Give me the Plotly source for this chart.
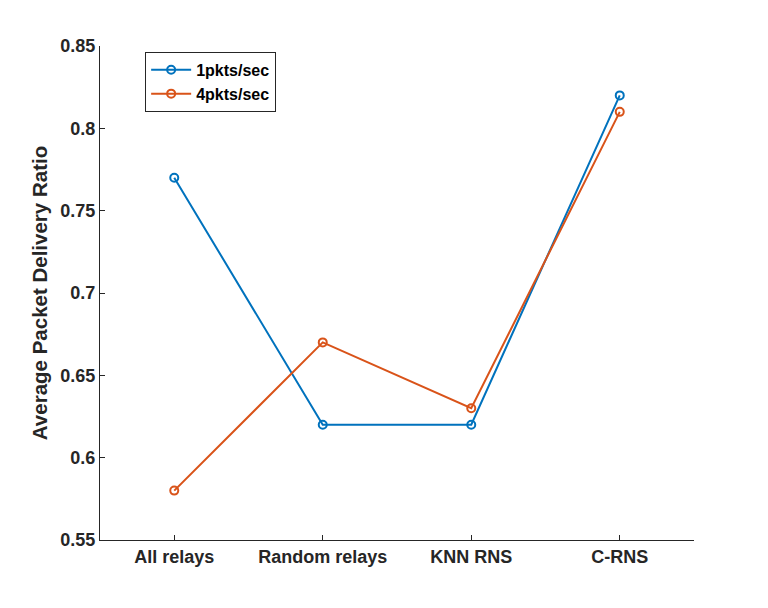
import plotly.graph_objects as go

categories = ["All relays", "Random relays", "KNN RNS", "C-RNS"]
pdr_1pkt = [0.77, 0.62, 0.62, 0.82]
pdr_4pkt = [0.58, 0.67, 0.63, 0.81]
y_ticks = [0.55, 0.6, 0.65, 0.7, 0.75, 0.8, 0.85]
y_tick_labels = ["0.55", "0.6", "0.65", "0.7", "0.75", "0.8", "0.85"]

xpos = list(range(1, len(categories) + 1))

fig = go.Figure()
fig.add_trace(go.Scatter(x=xpos, y=pdr_1pkt, mode="lines+markers", name="1pkts/sec",
                         line=dict(color="#0072BD", width=2),
                         marker=dict(symbol="circle-open", size=8, line=dict(width=2, color="#0072BD"))))
fig.add_trace(go.Scatter(x=xpos, y=pdr_4pkt, mode="lines+markers", name="4pkts/sec",
                         line=dict(color="#D95319", width=2),
                         marker=dict(symbol="circle-open", size=8, line=dict(width=2, color="#D95319"))))

axis_font = dict(family="Liberation Sans, Arial, sans-serif", size=18, color="#262626")
fig.update_layout(
    width=768, height=608,
    paper_bgcolor="white", plot_bgcolor="white",
    margin=dict(l=92, r=82, t=38, b=76),
    font=axis_font,
    showlegend=True,
    legend=dict(x=0.076, y=0.988, xanchor="left", yanchor="top",
                bgcolor="white", bordercolor="#262626", borderwidth=1,
                font=dict(family="Liberation Sans, Arial, sans-serif", size=16, color="black", weight="bold"),
                tracegroupgap=0, itemwidth=40),
)
fig.update_xaxes(range=[0.5, 4.5], tickvals=xpos, ticktext=[f"<b>{c}</b>" for c in categories],
                 showgrid=False, zeroline=False, showline=True, linecolor="#262626", linewidth=1,
                 ticks="inside", ticklen=5, tickcolor="#262626", mirror=False)
fig.update_yaxes(range=[0.55, 0.85], tickvals=y_ticks, ticktext=[f"<b>{t}</b>" for t in y_tick_labels],
                 showgrid=False, zeroline=False, showline=True, linecolor="#262626", linewidth=1,
                 ticks="inside", ticklen=5, tickcolor="#262626", mirror=False,
                 title=dict(text="<b>Average Packet Delivery Ratio</b>", font=dict(size=20.5), standoff=7))

fig.write_html("out.html")
